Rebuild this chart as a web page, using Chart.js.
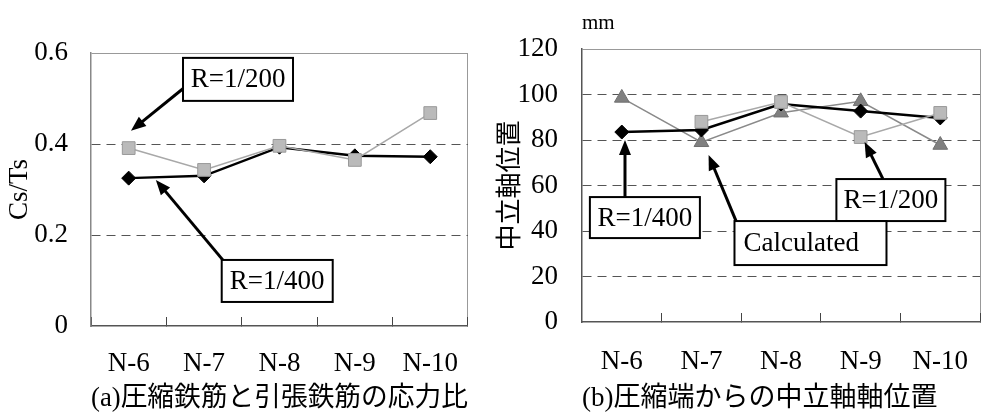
<!DOCTYPE html>
<html>
<head>
<meta charset="utf-8">
<script src="https://cdn.jsdelivr.net/npm/chart.js@4.4.1/dist/chart.umd.min.js"></script>
<style>
  body { margin: 0; background: #fff; overflow: hidden; width: 990px; height: 412px; position: relative; }
  canvas { position: absolute; top: 0; }
</style>
</head>
<body>
<canvas id="ratioChart" width="490" height="412" style="left:0"></canvas>
<canvas id="depthChart" width="512" height="412" style="left:490px"></canvas>
<script>
// specimens
const specimens = ["N-6", "N-7", "N-8", "N-9", "N-10"];

// (a) Cs/Ts
const ratioR400 = [0.325, 0.33, 0.393, 0.374, 0.372];
const ratioR200 = [0.391, 0.343, 0.396, 0.365, 0.468];
const ratioTicks = [0, 0.2, 0.4, 0.6];

// (b) neutral axis depth, mm
const depthR400 = [83.5, 84.4, 95.8, 92.7, 89.7];
const depthR200 = [null, 88, 96.7, 81.3, 91.9];
const depthCalc = [98.5, 79, 92, 97, 77.8];
const depthTicks = [0, 20, 40, 60, 80, 100, 120];

const serif = "'Liberation Serif', 'Noto Sans CJK JP', serif";
Chart.defaults.font.family = serif;
Chart.defaults.color = "#000";

// boxed labels with arrows, placed in data units (category index, value)
const callouts = {
  id: "callouts",
  afterDatasetsDraw(chart, args, opts) {
    const { ctx, scales: { x, y }, chartArea } = chart;
    ctx.save();
    if (opts.unit) {
      ctx.font = "21px " + serif;
      ctx.fillStyle = "#000";
      ctx.textBaseline = "middle";
      ctx.textAlign = "left";
      ctx.fillText(opts.unit, chartArea.left, chartArea.top - 26);
    }
    (opts.notes || []).forEach(n => {
      // arrow
      const tx = x.getPixelForValue(n.from[0]), ty = y.getPixelForValue(n.from[1]);
      const hx = x.getPixelForValue(n.to[0]), hy = y.getPixelForValue(n.to[1]);
      const ang = Math.atan2(hy - ty, hx - tx);
      const hl = 15, hw = 6;
      ctx.strokeStyle = "#000";
      ctx.fillStyle = "#000";
      ctx.lineWidth = 3;
      ctx.beginPath();
      ctx.moveTo(tx, ty);
      ctx.lineTo(hx - Math.cos(ang) * (hl - 2), hy - Math.sin(ang) * (hl - 2));
      ctx.stroke();
      ctx.beginPath();
      ctx.moveTo(hx, hy);
      ctx.lineTo(hx - Math.cos(ang) * hl - Math.sin(ang) * hw, hy - Math.sin(ang) * hl + Math.cos(ang) * hw);
      ctx.lineTo(hx - Math.cos(ang) * hl + Math.sin(ang) * hw, hy - Math.sin(ang) * hl - Math.cos(ang) * hw);
      ctx.closePath();
      ctx.fill();
    });
    (opts.notes || []).forEach(n => {
      const cx = x.getPixelForValue(n.x), cy = y.getPixelForValue(n.y);
      const left = cx - n.w / 2, top = cy - n.h / 2;
      ctx.fillStyle = "#fff";
      ctx.fillRect(left, top, n.w, n.h);
      ctx.lineWidth = 2;
      ctx.strokeStyle = "#000";
      ctx.strokeRect(left, top, n.w, n.h);
      ctx.fillStyle = "#000";
      ctx.font = "27px " + serif;
      ctx.textBaseline = "middle";
      if (n.align === "left") {
        ctx.textAlign = "left";
        ctx.fillText(n.text, left + 9, cy + 1);
      } else {
        ctx.textAlign = "center";
        ctx.fillText(n.text, cx, cy + 1);
      }
    });
    ctx.restore();
  }
};

function lineSet(label, data, kind) {
  if (kind === "r400") {
    return { label, data, order: 1, borderColor: "#000", borderWidth: 2.5, pointStyle: "rectRot",
      pointRadius: 7, pointBackgroundColor: "#000", pointBorderColor: "#000", pointBorderWidth: 1 };
  }
  if (kind === "r200") {
    return { label, data, order: 0, borderColor: "#a8a8a8", borderWidth: 1.5, pointStyle: "rect",
      pointRadius: 9, pointBackgroundColor: "#bababa", pointBorderColor: "#999", pointBorderWidth: 1 };
  }
  return { label, data, order: 2, borderColor: "#8a8a8a", borderWidth: 1.5, pointStyle: "triangle",
    pointRadius: 8.5, pointBackgroundColor: "#808080", pointBorderColor: "#707070", pointBorderWidth: 1 };
}

function makeChart(id, cfg) {
  const max = cfg.ticks[cfg.ticks.length - 1];
  return new Chart(document.getElementById(id), {
    type: "line",
    data: { labels: specimens, datasets: cfg.datasets },
    plugins: [callouts],
    options: {
      responsive: false,
      animation: false,
      layout: { padding: { top: cfg.top, right: cfg.right, left: 0, bottom: 0 } },
      plugins: {
        legend: { display: false },
        tooltip: { enabled: false },
        title: {
          display: true, position: "bottom", fullSize: false, align: cfg.captionAlign,
          text: cfg.caption, color: "#000", padding: 0,
          font: { size: 27, weight: "normal", lineHeight: 1 }
        },
        callouts: { notes: cfg.notes, unit: cfg.unit }
      },
      scales: {
        x: {
          offset: true,
          grid: {
            offset: true,
            color: c => c.type === "scale" ? "#999" : "transparent",
            tickColor: "#444",
            tickLength: -9,
            lineWidth: 1
          },
          border: { color: "#555", width: 1.5 },
          ticks: { padding: cfg.xPad, font: { size: 27 } },
          afterFit: s => { s.height = cfg.xHeight; }
        },
        y: {
          min: 0, max: max,
          afterBuildTicks: s => { s.ticks = cfg.ticks.map(v => ({ value: v })); },
          grid: {
            drawTicks: false,
            lineWidth: 1,
            color: c => !c.tick ? "#999" : c.tick.value === 0 ? "transparent" : c.tick.value === max ? "#999" : "#555"
          },
          border: {
            color: cfg.yAxisColor, width: 1.5,
            dash: c => (c.tick && c.tick.value > 0 && c.tick.value < max) ? [9, 6] : []
          },
          ticks: {
            padding: cfg.yPad, font: { size: 27 },
            callback: v => v === 0 ? "0" : cfg.fmt(v)
          },
          title: {
            display: true, text: cfg.yTitle, color: "#000",
            font: { size: cfg.yTitleSize, lineHeight: 1.2 }, padding: { top: cfg.yTitlePad, bottom: 0 }
          },
          afterFit: s => { s.width = cfg.yWidth; }
        }
      }
    }
  });
}

makeChart("ratioChart", {
  datasets: [lineSet("R=1/400", ratioR400, "r400"), lineSet("R=1/200", ratioR200, "r200")],
  ticks: ratioTicks,
  fmt: v => v.toFixed(1),
  top: 53, right: 9,
  xHeight: 59, xPad: 31, yWidth: 91, yPad: 23,
  yAxisColor: "#888",
  yTitle: "Cs/Ts", yTitleSize: 27, yTitlePad: 4,
  caption: "(a)圧縮鉄筋と引張鉄筋の応力比", captionAlign: "center",
  notes: [
    { text: "R=1/200", x: 1.45, y: 0.542, w: 110, h: 43, from: [0.76, 0.527], to: [0.03, 0.429] },
    { text: "R=1/400", x: 1.97, y: 0.099, w: 111, h: 42, from: [1.27, 0.141], to: [0.36, 0.321] }
  ]
});

makeChart("depthChart", {
  datasets: [lineSet("R=1/400", depthR400, "r400"), lineSet("R=1/200", depthR200, "r200"), lineSet("Calculated", depthCalc, "calc")],
  ticks: depthTicks,
  fmt: v => String(v),
  top: 49, right: 10,
  xHeight: 63, xPad: 33, yWidth: 92, yPad: 24,
  yAxisColor: "#555",
  yTitle: "中立軸位置", yTitleSize: 26, yTitlePad: 6,
  caption: "(b)圧縮端からの中立軸軸位置", captionAlign: "start",
  unit: "mm",
  notes: [
    { text: "R=1/400", x: 0.29, y: 45.9, w: 110, h: 41, from: [0.04, 55], to: [0.04, 80] },
    { text: "R=1/200", x: 3.38, y: 53.6, w: 109, h: 42, from: [3.28, 62.9], to: [3.05, 79.1] },
    { text: "Calculated", x: 2.37, y: 34.7, w: 152, h: 44, align: "left", from: [1.45, 43.1], to: [1.09, 73.4] }
  ]
});
</script>
</body>
</html>
